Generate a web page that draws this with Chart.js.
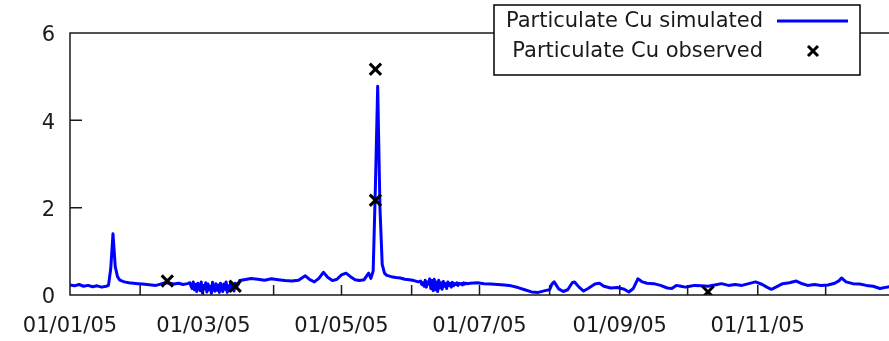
<!DOCTYPE html>
<html>
  <head>
    <title>Particulate Cu</title>
    <script src="https://cdn.jsdelivr.net/npm/chart.js@4/dist/chart.umd.min.js"></script>
    <style>
      html, body { margin: 0; padding: 0; overflow: hidden; background: #fff; }
      canvas { display: block; }
    </style>
  </head>
  <body>
    <canvas id="canvas" width="889" height="341"></canvas>
    <script>
      // day of year 2005 (0 = 01/01/05) and simulated concentration
      const simDays = [
        0, 2, 4, 6, 8, 10, 12, 14, 16, 17, 18, 19, 20, 21, 22, 24, 26,
        28, 30, 32, 34, 36, 38, 40, 42, 44, 46, 48, 50, 52,
        53, 53.5, 54, 54.5, 55, 55.5, 56, 56.5, 57, 57.5, 58, 58.5, 59, 59.5, 60, 60.5,
        61, 61.5, 62, 62.5, 63, 63.5, 64, 64.5, 65, 65.5, 66, 66.5, 67, 67.5, 68, 68.5,
        69, 69.5, 70, 70.5, 71, 71.5, 72, 72.5, 73, 73.5, 74, 74.5,
        75, 77, 80, 83, 86, 89, 92, 95, 98, 101, 104, 106, 108, 110, 112, 114, 116, 118, 120,
        122, 124, 126, 128, 130, 132, 133, 134, 135, 136, 137, 138, 139, 140, 142, 144, 146,
        148, 150, 152, 154,
        155, 155.5, 156, 156.5, 157, 157.5, 158, 158.5, 159, 159.5, 160, 160.5, 161, 161.5,
        162, 162.5, 163, 163.5, 164, 164.5, 165, 165.5, 166, 166.5, 167, 167.5, 168, 168.5,
        169, 169.5, 170, 170.5, 171, 171.5, 172, 172.5, 173, 173.5, 174, 174.5, 175, 175.5,
        177, 180, 183, 186, 189, 192, 195, 198, 201, 204, 207, 210, 212, 213, 214, 216, 218,
        220, 222, 223, 225, 227, 229, 232, 234, 236, 239, 242, 245, 247, 249, 251, 253, 255,
        258, 261, 264, 266, 268, 270, 272, 274, 276, 279, 282, 285, 288, 291, 294, 297, 300,
        303, 306, 308, 310, 312, 315, 318, 321, 323, 326, 329, 332, 335, 338, 340, 341, 343,
        346, 349, 352, 355, 358, 361, 364
      ];
      const simValues = [
        0.23, 0.21, 0.24, 0.20, 0.22, 0.19, 0.21, 0.18, 0.20, 0.22, 0.60, 1.40, 0.65, 0.42, 0.34, 0.30, 0.28,
        0.27, 0.26, 0.25, 0.24, 0.23, 0.22, 0.25, 0.28, 0.27, 0.25, 0.27, 0.24, 0.26,
        0.28, 0.20, 0.15, 0.30, 0.12, 0.24, 0.08, 0.27, 0.18, 0.10, 0.30, 0.05, 0.22, 0.14, 0.28, 0.07,
        0.25, 0.12, 0.20, 0.04, 0.29, 0.15, 0.09, 0.26, 0.11, 0.23, 0.06, 0.27, 0.17, 0.08, 0.25, 0.13,
        0.30, 0.06, 0.21, 0.10, 0.28, 0.15, 0.24, 0.09, 0.27, 0.18, 0.22, 0.25,
        0.33, 0.35, 0.38, 0.36, 0.34, 0.37, 0.35, 0.33, 0.32, 0.34, 0.44, 0.35, 0.30, 0.38, 0.52, 0.40, 0.33, 0.36, 0.46,
        0.50, 0.42, 0.35, 0.33, 0.35, 0.50, 0.38, 0.55, 2.50, 4.78, 2.00, 0.70, 0.50, 0.45, 0.42, 0.40, 0.39,
        0.36, 0.35, 0.33, 0.30,
        0.32, 0.24, 0.28, 0.20, 0.34, 0.18, 0.30, 0.25, 0.37, 0.15, 0.33, 0.10, 0.36, 0.12,
        0.30, 0.08, 0.34, 0.16, 0.28, 0.13, 0.31, 0.20, 0.26, 0.15, 0.30, 0.22, 0.27, 0.18,
        0.29, 0.21, 0.26, 0.24, 0.28, 0.22, 0.27, 0.25, 0.26, 0.23, 0.28, 0.25, 0.27, 0.26,
        0.27, 0.28, 0.26, 0.25, 0.24, 0.23, 0.21, 0.17, 0.12, 0.07, 0.06, 0.10, 0.12, 0.25, 0.30, 0.14, 0.08,
        0.12, 0.28, 0.30, 0.18, 0.09, 0.15, 0.25, 0.27, 0.20, 0.16, 0.17, 0.13, 0.07, 0.15, 0.37, 0.30, 0.27,
        0.26, 0.22, 0.16, 0.15, 0.22, 0.20, 0.18, 0.20, 0.22, 0.21, 0.20, 0.23, 0.26, 0.22, 0.24, 0.22, 0.26,
        0.30, 0.24, 0.18, 0.13, 0.18, 0.26, 0.28, 0.32, 0.27, 0.22, 0.24, 0.22, 0.23, 0.27, 0.33, 0.39, 0.30,
        0.26, 0.25, 0.22, 0.20, 0.15, 0.18, 0.20
      ];
      const obsDays = [43, 73, 135, 135, 282];
      const obsValues = [0.32, 0.20, 5.17, 2.17, 0.07];

      // first day of each month, label every other month
      const monthDays = [0, 31, 59, 90, 120, 151, 181, 212, 243, 273, 304, 334];
      const monthLabels = ['01/01/05', '', '01/03/05', '', '01/05/05', '', '01/07/05', '', '01/09/05', '', '01/11/05', ''];
      const yTicks = [0, 2, 4, 6];

      const FONT = 'DejaVu Sans';
      const INK = '#1a1a1a';

      const frame = {
        id: 'frame',
        afterDatasetsDraw(chart) {
          const { ctx, chartArea: a, scales } = chart;
          ctx.save();
          ctx.strokeStyle = INK;
          ctx.lineWidth = 1.5;
          ctx.beginPath();
          monthDays.forEach(d => {
            const px = scales.x.getPixelForValue(d);
            ctx.moveTo(px, a.bottom);
            ctx.lineTo(px, a.bottom - 10);
          });
          yTicks.forEach(v => {
            const py = scales.y.getPixelForValue(v);
            ctx.moveTo(a.left, py);
            ctx.lineTo(a.left + 12, py);
          });
          // border: right side falls outside the picture
          ctx.moveTo(a.right + 5, a.top);
          ctx.lineTo(a.left, a.top);
          ctx.lineTo(a.left, a.bottom);
          ctx.lineTo(a.right + 5, a.bottom);
          ctx.stroke();

          // legend box
          ctx.fillStyle = '#fff';
          ctx.fillRect(494, 5, 366, 70);
          ctx.strokeStyle = '#000';
          ctx.lineWidth = 1.5;
          ctx.strokeRect(494, 5, 366, 70);
          ctx.font = '21px "' + FONT + '"';
          ctx.fillStyle = INK;
          ctx.textAlign = 'right';
          ctx.textBaseline = 'middle';
          ctx.fillText('Particulate Cu simulated', 763, 22);
          ctx.fillText('Particulate Cu observed', 763, 52);
          ctx.strokeStyle = '#0000ff';
          ctx.lineWidth = 3;
          ctx.beginPath();
          ctx.moveTo(777, 21);
          ctx.lineTo(848, 21);
          ctx.stroke();
          ctx.strokeStyle = '#000';
          ctx.lineWidth = 3;
          ctx.beginPath();
          ctx.moveTo(808, 46); ctx.lineTo(818, 56);
          ctx.moveTo(818, 46); ctx.lineTo(808, 56);
          ctx.stroke();
          ctx.restore();
        }
      };

      new Chart(document.getElementById('canvas'), {
        type: 'scatter',
        data: {
          datasets: [
            {
              label: 'Particulate Cu observed',
              data: obsDays.map((d, i) => ({ x: d, y: obsValues[i] })),
              pointStyle: 'crossRot',
              pointRadius: 8,
              borderWidth: 3,
              borderColor: '#000',
              backgroundColor: '#000'
            },
            {
              label: 'Particulate Cu simulated',
              data: simDays.map((d, i) => ({ x: d, y: simValues[i] })),
              showLine: true,
              pointRadius: 0,
              borderWidth: 3,
              borderJoinStyle: 'round',
              borderCapStyle: 'round',
              borderColor: '#0000ff',
              backgroundColor: '#0000ff'
            }
          ]
        },
        options: {
          responsive: false,
          animation: false,
          events: [],
          layout: { autoPadding: false, padding: { top: 33, right: 0, left: 0, bottom: 0 } },
          plugins: { legend: { display: false }, tooltip: { enabled: false } },
          scales: {
            x: {
              type: 'linear',
              min: 0,
              max: 362,
              grid: { display: false, drawTicks: false },
              border: { display: false },
              afterBuildTicks: s => { s.ticks = monthDays.map(v => ({ value: v })); },
              afterFit: s => { s.height = 46; },
              ticks: {
                autoSkip: false,
                maxRotation: 0,
                padding: 19,
                color: INK,
                font: { family: FONT, size: 21 },
                callback: (v, i) => monthLabels[i]
              }
            },
            y: {
              min: 0,
              max: 6,
              grid: { display: false, drawTicks: false },
              border: { display: false },
              afterBuildTicks: s => { s.ticks = yTicks.map(v => ({ value: v })); },
              afterFit: s => { s.width = 70; },
              ticks: {
                padding: 15,
                labelOffset: 3,
                color: INK,
                font: { family: FONT, size: 21 }
              }
            }
          }
        },
        plugins: [frame]
      });
    </script>
  </body>
</html>
